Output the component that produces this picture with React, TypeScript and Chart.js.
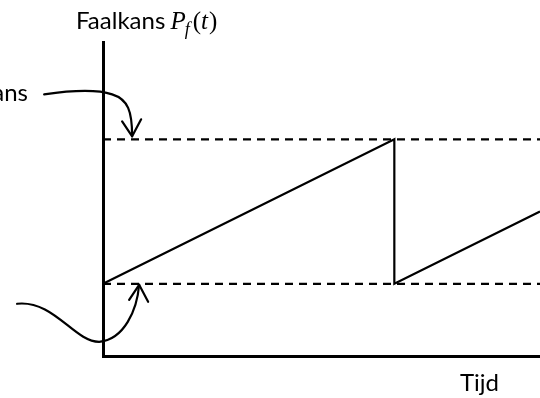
import React, { useEffect, useRef } from "react";
import { Chart, registerables } from "chart.js";

Chart.register(...registerables);

// Sawtooth failure probability over time (one maintenance cycle = 1 time unit)
const timePoints = [0, 1, 1, 1.5];
const failureProb = [0.23, 0.69, 0.23, 0.46];
const upperLimit = 0.69;
const lowerLimit = 0.23;
const timeMin = 0;
const timeMax = 1.5;
const probMin = 0;
const probMax = 1;
// annotation arrow tips (time value on each limit line)
const upperArrowTime = 0.1;
const lowerArrowTime = 0.124;

const yTitleText = "Faalkans ";
const xTitleText = "Tijd";
const leftLabelText = "faalkans";

const sansFont = "Lato, 'Open Sans', sans-serif";
const serifFont = "'Liberation Serif', 'DejaVu Serif', serif";

function arrowHead(ctx: CanvasRenderingContext2D, tx: number, ty: number, dir: number) {
  // dir: +1 pointing down, -1 pointing up
  ctx.beginPath();
  ctx.moveTo(tx - 10, ty - dir * 15);
  ctx.lineTo(tx, ty);
  ctx.lineTo(tx + 9, ty - dir * 17);
  ctx.stroke();
}

const decorPlugin = {
  id: "decor",
  afterDraw(chart: any) {
    const ctx: CanvasRenderingContext2D = chart.ctx;
    const xs = chart.scales.x;
    const ys = chart.scales.y;
    ctx.save();
    ctx.fillStyle = "#000";
    ctx.strokeStyle = "#000";
    ctx.lineWidth = 2.2;
    ctx.lineCap = "round";
    ctx.lineJoin = "round";

    // Y title: "Faalkans P_f(t)"
    ctx.textBaseline = "alphabetic";
    ctx.textAlign = "left";
    ctx.font = `24px ${sansFont}`;
    let x = 76;
    const base = 29;
    ctx.fillText(yTitleText, x, base);
    x += ctx.measureText(yTitleText).width - 1;
    ctx.font = `italic 25px ${serifFont}`;
    ctx.fillText("P", x, base);
    x += ctx.measureText("P").width - 1;
    ctx.font = `italic 18px ${serifFont}`;
    ctx.fillText("f", x, base + 6);
    x += ctx.measureText("f").width + 3;
    ctx.font = `25px ${serifFont}`;
    ctx.fillText("(", x, base);
    x += ctx.measureText("(").width;
    ctx.font = `italic 25px ${serifFont}`;
    ctx.fillText("t", x, base);
    x += ctx.measureText("t").width + 1;
    ctx.font = `25px ${serifFont}`;
    ctx.fillText(")", x, base);

    // X title
    ctx.font = `24px ${sansFont}`;
    ctx.fillText(xTitleText, 460, 391);

    // left cut-off label
    ctx.textAlign = "right";
    ctx.fillText(leftLabelText, 28, 101);

    // Upper arrow
    const ux = xs.getPixelForValue(upperArrowTime);
    const uy = ys.getPixelForValue(upperLimit) - 3;
    ctx.beginPath();
    ctx.moveTo(ux - 88, uy - 42);
    ctx.bezierCurveTo(ux - 60, uy - 46, ux - 35, uy - 47, ux - 20, uy - 42);
    ctx.bezierCurveTo(ux - 4, uy - 37, ux, uy - 25, ux, uy);
    ctx.stroke();
    arrowHead(ctx, ux, uy, 1);

    // Lower arrow
    const lx = xs.getPixelForValue(lowerArrowTime);
    const ly = ys.getPixelForValue(lowerLimit) + 1;
    ctx.beginPath();
    ctx.moveTo(lx - 122, ly + 19);
    ctx.bezierCurveTo(lx - 85, ly + 15, lx - 65, ly + 57, lx - 40, ly + 57);
    ctx.bezierCurveTo(lx - 15, ly + 55, lx - 2, ly + 25, lx, ly);
    ctx.stroke();
    arrowHead(ctx, lx, ly, -1);

    ctx.restore();
  },
};

export default function App() {
  const ref = useRef<HTMLCanvasElement>(null);
  useEffect(() => {
    if (!ref.current) return;
    const line = (y: number) => [
      { x: timeMin, y },
      { x: timeMax, y },
    ];
    const chart = new Chart(ref.current, {
      type: "line",
      data: {
        datasets: [
          {
            data: timePoints.map((t, i) => ({ x: t, y: failureProb[i] })),
            borderColor: "#000",
            borderWidth: 2.2,
            pointRadius: 0,
            tension: 0,
            fill: false,
          },
          {
            data: line(upperLimit),
            borderColor: "#000",
            borderWidth: 2.2,
            borderDash: [8, 6],
            pointRadius: 0,
            fill: false,
          },
          {
            data: line(lowerLimit),
            borderColor: "#000",
            borderWidth: 2.2,
            borderDash: [8, 6],
            pointRadius: 0,
            fill: false,
          },
        ],
      },
      options: {
        responsive: false,
        animation: false,
        devicePixelRatio: 1,
        layout: { padding: { left: 103, top: 42, right: 0, bottom: 42 } },
        plugins: { legend: { display: false }, tooltip: { enabled: false }, title: { display: false } },
        scales: {
          x: {
            type: "linear",
            min: timeMin,
            max: timeMax,
            ticks: { display: false },
            grid: { display: false, drawTicks: false },
            border: { display: true, color: "#000", width: 3 },
          },
          y: {
            type: "linear",
            min: probMin,
            max: probMax,
            ticks: { display: false },
            grid: { display: false, drawTicks: false },
            border: { display: true, color: "#000", width: 3 },
          },
        },
      },
      plugins: [decorPlugin],
    });
    return () => chart.destroy();
  }, []);
  return (
    <div style={{ position: "absolute", left: 0, top: 0, width: 540, height: 398, background: "#fff" }}>
      <canvas ref={ref} width={540} height={398} />
    </div>
  );
}
